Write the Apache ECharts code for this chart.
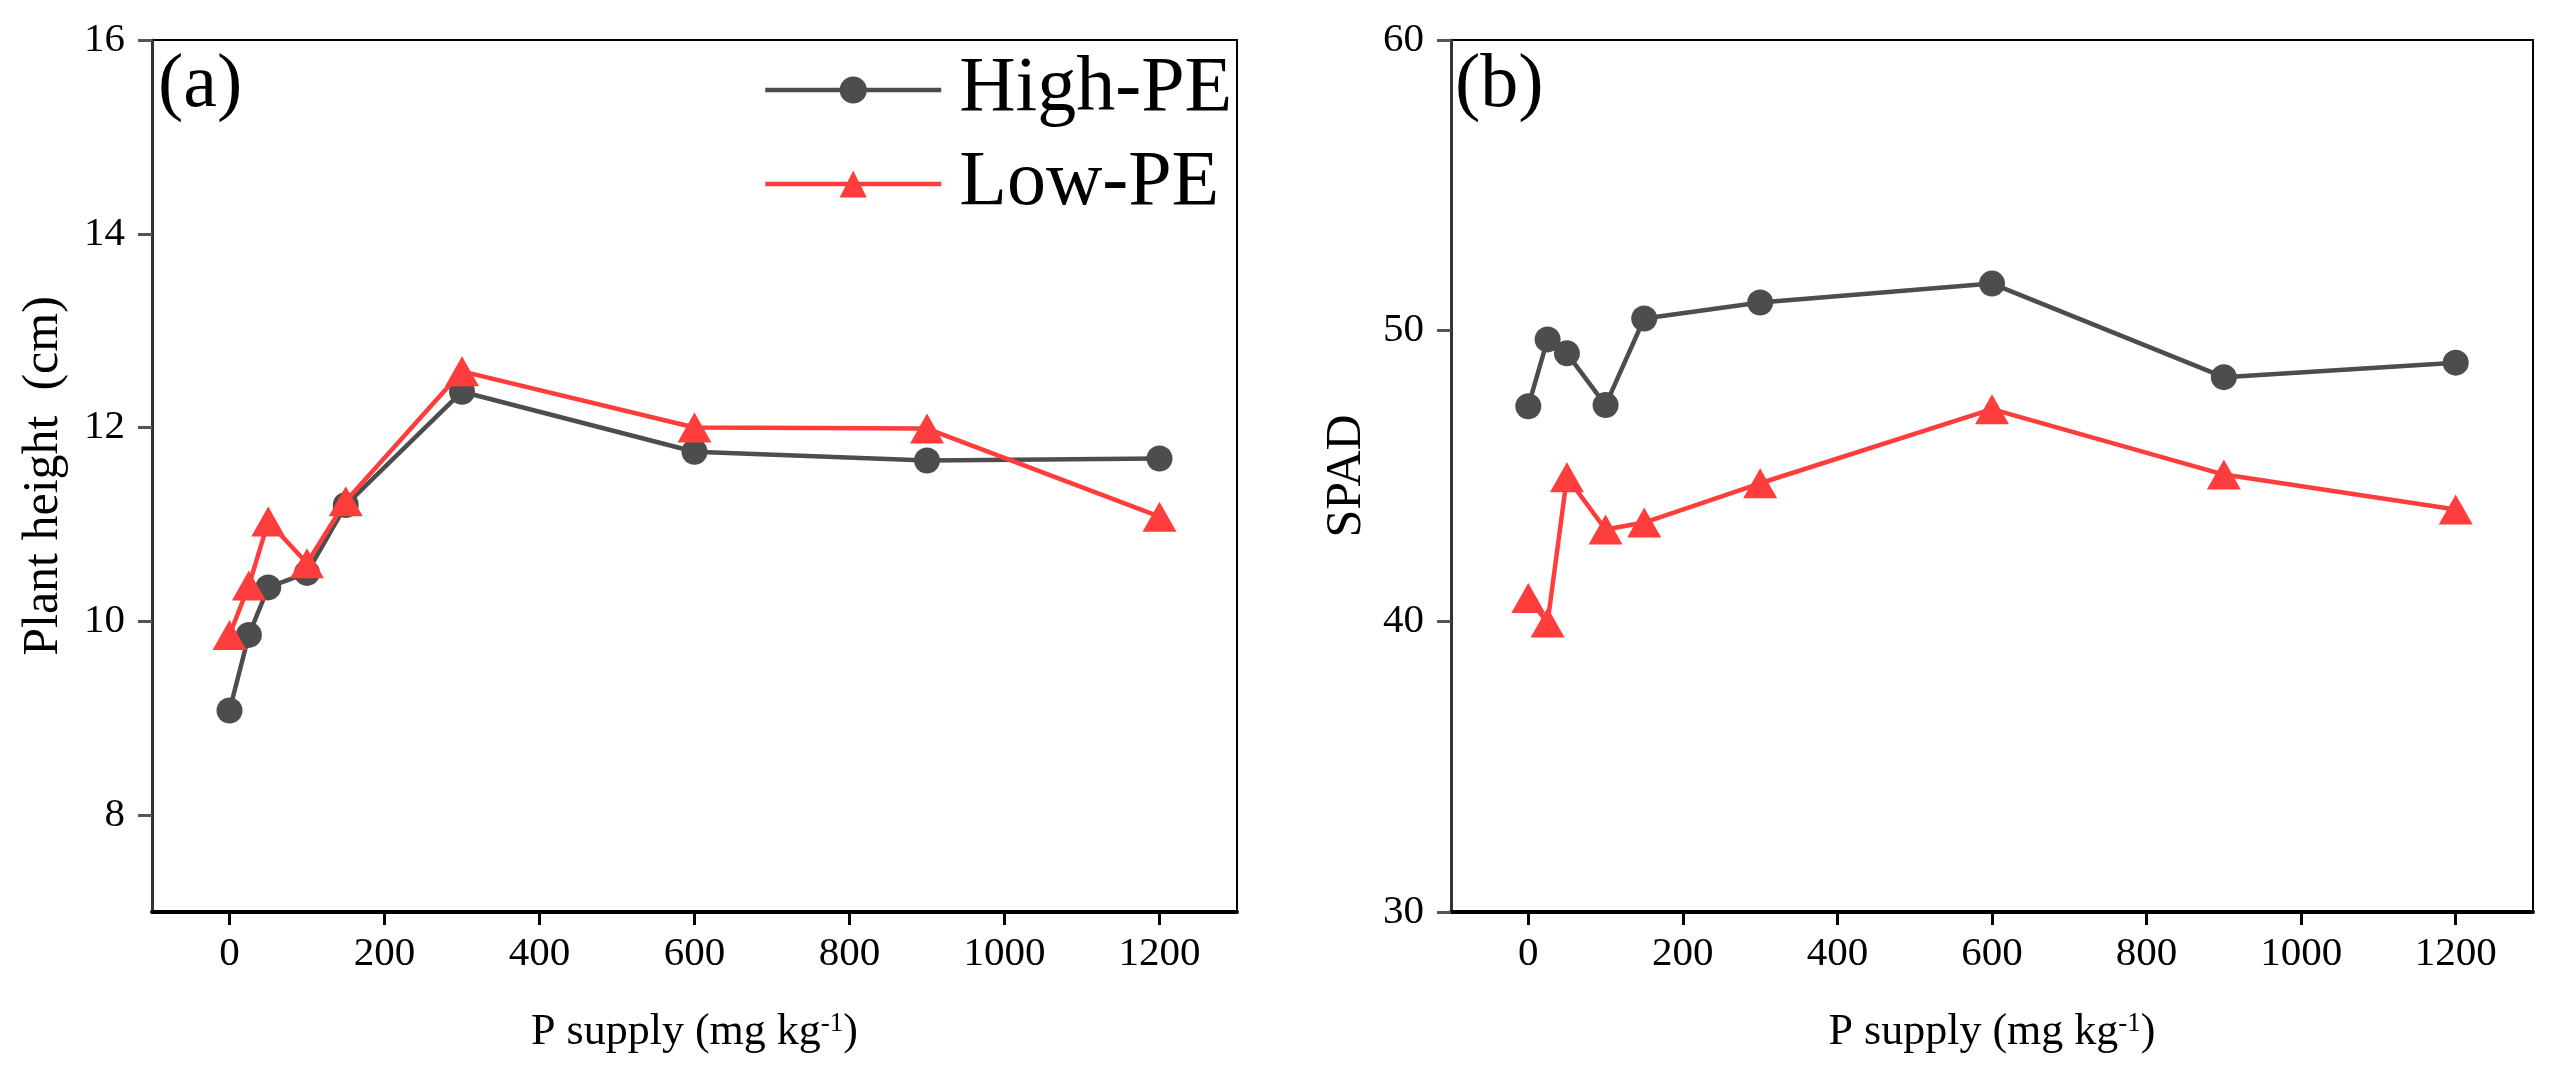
<!DOCTYPE html>
<html>
<head>
<meta charset="utf-8">
<script src="https://cdn.jsdelivr.net/npm/echarts@6/dist/echarts.min.js"></script>
<style>
  html, body { margin: 0; padding: 0; background: #fff; }
  #chart { width: 2556px; height: 1076px; }
</style>
</head>
<body>
<div id="chart"></div>
<script>
const pSupply = [0, 25, 50, 100, 150, 300, 600, 900, 1200]
const heightHigh = [9.08, 9.86, 10.35, 10.5, 11.2, 12.37, 11.75, 11.66, 11.68]
const heightLow = [9.86, 10.37, 11.03, 10.6, 11.24, 12.58, 12.0, 11.99, 11.08]
const spadHigh = [47.4, 49.7, 49.22, 47.44, 50.42, 50.97, 51.62, 48.4, 48.9]
const spadLow = [40.8, 39.96, 44.96, 43.16, 43.4, 44.75, 47.3, 45.05, 43.85]
const xTicks = [0, 200, 400, 600, 800, 1000, 1200]
const heightTicks = [8, 10, 12, 14, 16]
const spadTicks = [30, 40, 50, 60]

const serif = '"Liberation Serif", "Times New Roman", serif'
const gray = '#4d4d4d'
const red = '#ff3d3d'

function pairs(ys) {
  return pSupply.map((x, i) => [x, ys[i]])
}

function xAxis(gridIndex) {
  return {
    type: 'value', gridIndex, min: -100, max: 1300,
    name: 'P supply (mg kg{sup|-1})', nameLocation: 'middle', nameGap: 98,
    nameTextStyle: {
      fontFamily: serif, fontSize: 44, color: '#000',
      rich: { sup: { fontFamily: serif, fontSize: 27, color: '#000', verticalAlign: 'top' } }
    },
    axisLine: { show: true, onZero: false, lineStyle: { color: '#000', width: 4 } },
    axisTick: { show: true, customValues: xTicks, length: 13, lineStyle: { color: '#000', width: 3 } },
    axisLabel: { customValues: xTicks, margin: 22, fontFamily: serif, fontSize: 41, color: '#000', formatter: v => String(v) },
    splitLine: { show: false }
  }
}

function yAxis(gridIndex, min, max, ticks, name, gap) {
  return {
    type: 'value', gridIndex, min, max,
    name, nameLocation: 'middle', nameGap: gap,
    nameTextStyle: { fontFamily: serif, fontSize: 50, color: '#000' },
    axisLine: { show: true, onZero: false, lineStyle: { color: '#333', width: 3 } },
    axisTick: { show: true, customValues: ticks, length: 14, lineStyle: { color: '#555', width: 3 } },
    axisLabel: { customValues: ticks, margin: 27, fontFamily: serif, fontSize: 41, color: '#000', formatter: v => String(v) },
    splitLine: { show: false }
  }
}

function line(name, ys, idx, color, symbol, size) {
  return {
    name, type: 'line', xAxisIndex: idx, yAxisIndex: idx,
    data: pairs(ys),
    symbol, symbolSize: size, showAllSymbol: true,
    lineStyle: { color, width: 4.5 },
    itemStyle: { color },
    z: name === 'Low-PE' ? 3 : 2
  }
}

const chart = echarts.init(document.getElementById('chart'))
chart.setOption({
  animation: false,
  backgroundColor: '#fff',
  title: [
    { text: '(a)', left: 158, top: 48, padding: 0, textStyle: { fontFamily: serif, fontSize: 76, fontWeight: 'normal', color: '#000' } },
    { text: '(b)', left: 1455, top: 48, padding: 0, textStyle: { fontFamily: serif, fontSize: 76, fontWeight: 'normal', color: '#000' } }
  ],
  legend: {
    orient: 'vertical', left: 763, top: 51, padding: 0,
    itemWidth: 176, itemHeight: 34, itemGap: 16,
    lineStyle: { width: 4.5 },
    textStyle: { fontFamily: serif, fontSize: 78, color: '#000', padding: [0, 0, 0, 13] },
    data: ['High-PE', 'Low-PE']
  },
  grid: [
    { left: 152, top: 40, width: 1085, height: 872, show: true, borderColor: '#000', borderWidth: 2, outerBoundsMode: 'none' },
    { left: 1451, top: 40, width: 1082, height: 872, show: true, borderColor: '#000', borderWidth: 2, outerBoundsMode: 'none' }
  ],
  xAxis: [xAxis(0), xAxis(1)],
  yAxis: [
    yAxis(0, 7, 16, heightTicks, 'Plant height  (cm)', 83),
    yAxis(1, 30, 60, spadTicks, 'SPAD', 79)
  ],
  series: [
    line('High-PE', heightHigh, 0, gray, 'circle', 26),
    line('Low-PE', heightLow, 0, red, 'triangle', [34, 30]),
    line('High-PE', spadHigh, 1, gray, 'circle', 26),
    line('Low-PE', spadLow, 1, red, 'triangle', [34, 30])
  ]
})
</script>
</body>
</html>
